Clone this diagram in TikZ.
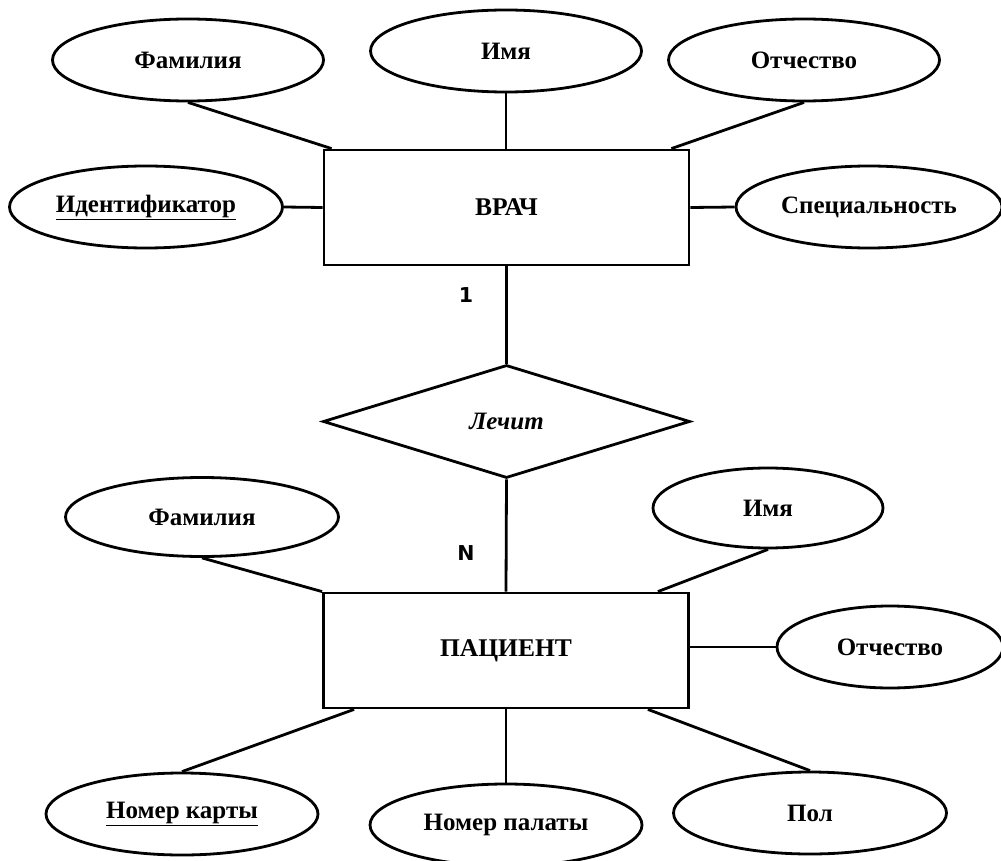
\documentclass[tikz,border=0pt]{standalone}
\usepackage{fontspec}
\setmainfont{Liberation Serif}
\newfontfamily\cardfont{DejaVu Sans}
\usetikzlibrary{shapes.geometric,calc}
\tikzset{
  base/.style={line width=2.8pt, draw=black},
  attr/.style={base, ellipse, inner sep=0pt, font=\fontsize{25}{30}\selectfont\bfseries},
  ent/.style={base, rectangle, inner sep=0pt, minimum width=365pt, minimum height=115pt, font=\fontsize{25.5}{30}\selectfont\bfseries},
  rel/.style={base, diamond, inner sep=0pt, minimum width=367pt, minimum height=113pt, font=\fontsize{25}{30}\selectfont\bfseries\itshape},
  card/.style={font=\cardfont\fontsize{20.5}{24}\selectfont\bfseries},
  conn/.style={line width=2.8pt}
}
\begin{document}
\begin{tikzpicture}[x=1pt,y=-1pt]
\useasboundingbox (0,0) rectangle (1001,861);
% entities
\node[ent] (vrach) at (506.5,207.5) {ВРАЧ};
\node[ent] (pat) at (506,650.5) {ПАЦИЕНТ};
\node[rel] (rel) at (506.5,421.5) {Лечит};
% attributes of ВРАЧ
\node[attr, minimum width=271pt, minimum height=82pt] (fam1) at (188,60) {Фамилия};
\node[attr, minimum width=271pt, minimum height=82pt] (imya1) at (506,51) {Имя};
\node[attr, minimum width=271pt, minimum height=82pt] (otch1) at (804,60) {Отчество};
\node[attr, minimum width=273pt, minimum height=82pt] (ident) at (146,207) {\underline{Идентификатор}};
\node[attr, minimum width=266pt, minimum height=82pt] (spec) at (869,207) {Специальность};
% attributes of ПАЦИЕНТ
\node[attr, minimum width=273pt, minimum height=79pt] (fam2) at (202,517) {Фамилия};
\node[attr, minimum width=230pt, minimum height=80pt] (imya2) at (768,508) {Имя};
\node[attr, minimum width=226pt, minimum height=82pt] (otch2) at (890,647) {Отчество};
\node[attr, minimum width=272pt, minimum height=82pt] (kart) at (182,814) {\underline{Номер карты}};
\node[attr, minimum width=272pt, minimum height=82pt] (palata) at (506,825) {Номер палаты};
\node[attr, minimum width=273pt, minimum height=82pt] (pol) at (810,813) {Пол};
% cardinalities
\node[card] (c1) at (466,295) {1};
\node[card] (cn) at (466,553) {N};
% connectors
\draw[conn] (fam1.south) -- ($(vrach.north west)+(9,0)$);
\draw[conn] (imya1.south) -- (imya1.south |- vrach.north);
\draw[conn] (otch1.south) -- ($(vrach.north east)+(-19,0)$);
\draw[conn] (ident.east) -- (vrach.west);
\draw[conn] (vrach.east) -- (spec.west);
\draw[conn] (vrach.south) -- (rel.north);
\draw[conn] (rel.south) -- (pat.north);
\draw[conn] (fam2.south) -- (pat.north west);
\draw[conn] (imya2.south) -- ($(pat.north east)+(-32,0)$);
\draw[conn] (pat.east |- otch2.west) -- (otch2.west);
\draw[conn] ($(pat.south west)+(32,0)$) -- (kart.north);
\draw[conn] (pat.south) -- (palata.north);
\draw[conn] ($(pat.south east)+(-42,0)$) -- (pol.north);
\end{tikzpicture}
\end{document}
